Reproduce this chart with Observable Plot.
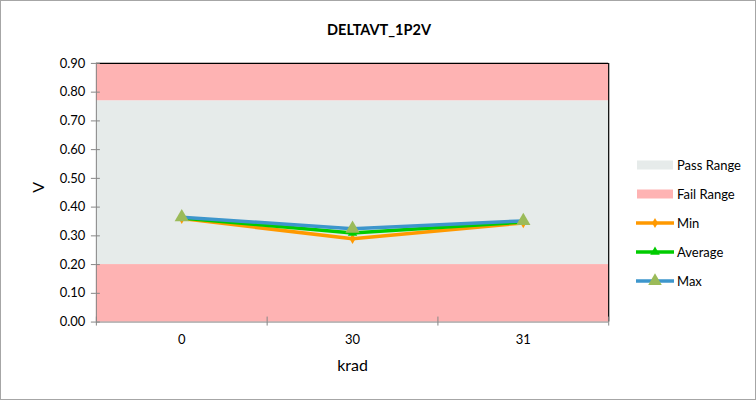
<!DOCTYPE html>
<html>
<head>
<meta charset="utf-8">
<script src="https://cdn.jsdelivr.net/npm/d3@7"></script>
<script src="https://cdn.jsdelivr.net/npm/@observablehq/plot@0.6"></script>
<style>
  html, body { margin: 0; padding: 0; background: #fff; }
  #wrap { position: relative; width: 756px; height: 400px; box-sizing: border-box; border: 1px solid #a6a6a6; font-family: Lato, "Open Sans", sans-serif; overflow: hidden; }
  #chart { position: absolute; left: -1px; top: -1px; }
  #title { position: absolute; left: 0; width: 756px; top: 20px; text-align: center; font-weight: bold; font-size: 14.5px; color: #000; }
  #legend { position: absolute; left: 635px; top: 155px; font-size: 13px; color: #000; }
  .item { position: absolute; left: 0; height: 18px; white-space: nowrap; }
  .item svg { position: absolute; left: 0; top: 0; }
  .item span { position: absolute; left: 41px; top: 0; line-height: 18px; }
</style>
</head>
<body>
<div id="wrap">
  <div id="chart"></div>
  <div id="title"></div>
  <div id="legend"></div>
</div>
<script>
const titleText = "DELTAVT_1P2V";
const xLabel = "krad";
const yLabel = "V";
const categories = ["0", "30", "31"];
const minValues = [0.36, 0.29, 0.345];
const avgValues = [0.362, 0.31, 0.348];
const maxValues = [0.365, 0.325, 0.352];
const passRange = [0.2, 0.77];
const failRanges = [[0, 0.2], [0.77, 0.9]];
const yTicks = [0, 0.1, 0.2, 0.3, 0.4, 0.5, 0.6, 0.7, 0.8, 0.9];
const yDomain = [0, 0.9];

const colors = {pass: "#e6ebea", fail: "#feb3b3", min: "#ff9900", avg: "#00cc00", max: "#3d96cc", maxMarker: "#9bbb59"};

document.getElementById("title").textContent = titleText;

const idx = categories.map((_, i) => i);
const xDom = [-0.5, categories.length - 0.5];
const boundaries = d3.range(categories.length + 1).map(i => i - 0.5);
const series = (vals) => idx.map(i => ({x: i, y: vals[i]}));
const noLabel = () => "";

const bands = [
  {y1: passRange[0], y2: passRange[1], fill: colors.pass},
  ...failRanges.map(r => ({y1: r[0], y2: r[1], fill: colors.fail}))
];

const plot = Plot.plot({
  width: 756,
  height: 400,
  marginLeft: 96,
  marginRight: 147,
  marginTop: 63,
  marginBottom: 78,
  style: {fontFamily: "Lato, 'Open Sans', sans-serif", fontSize: "13px", color: "#000", background: "transparent"},
  x: {type: "linear", domain: xDom},
  y: {domain: yDomain},
  marks: [
    Plot.rectY(bands, {x1: xDom[0], x2: xDom[1], y1: "y1", y2: "y2", fill: "fill"}),
    Plot.ruleY([yDomain[1]], {stroke: "#000", strokeWidth: 1.2}),
    Plot.ruleX([xDom[1]], {stroke: "#000", strokeWidth: 1.2}),
    Plot.ruleX([xDom[0]], {stroke: "#868686"}),
    Plot.ruleY([yDomain[0]], {stroke: "#868686"}),
    Plot.axisY({ticks: yTicks, tickFormat: d => d.toFixed(2), tickSize: 5, tickPadding: 6, stroke: "#868686", label: null, fontSize: 13}),
    Plot.axisY({ticks: yTicks, tickFormat: noLabel, tickSize: -4, stroke: "#868686", label: null}),
    Plot.axisX({ticks: boundaries, tickFormat: noLabel, tickSize: 4, stroke: "#868686", label: null}),
    Plot.axisX({ticks: boundaries, tickFormat: noLabel, tickSize: -5, stroke: "#868686", label: null}),
    Plot.axisX({ticks: idx, tickFormat: i => categories[i], tickSize: 0, tickPadding: 13, label: null, fontSize: 13}),
    Plot.line(series(minValues), {x: "x", y: "y", stroke: colors.min, strokeWidth: 3.5}),
    Plot.dot(series(minValues), {x: "x", y: "y", symbol: "diamond", r: 3.2, fill: colors.min}),
    Plot.line(series(avgValues), {x: "x", y: "y", stroke: colors.avg, strokeWidth: 3.5}),
    Plot.dot(series(avgValues), {x: "x", y: "y", symbol: "triangle", r: 3.5, fill: colors.avg}),
    Plot.line(series(maxValues), {x: "x", y: "y", stroke: colors.max, strokeWidth: 3.5}),
    Plot.dot(series(maxValues), {x: "x", y: "y", symbol: "triangle", r: 5.3, fill: colors.maxMarker}),
    Plot.text([xLabel], {x: (xDom[0] + xDom[1]) / 2, y: yDomain[0], dy: 44, text: d => d, fontSize: 16, lineAnchor: "middle"}),
    Plot.text([yLabel], {frameAnchor: "left", dx: -58, text: d => d, fontSize: 16, rotate: -90})
  ]
});
document.getElementById("chart").appendChild(plot);

const legendItems = [
  {label: "Pass Range", type: "box", color: colors.pass},
  {label: "Fail Range", type: "box", color: colors.fail},
  {label: "Min", type: "line", color: colors.min, marker: "diamond", markerColor: colors.min},
  {label: "Average", type: "line", color: colors.avg, marker: "triangle", markerColor: colors.avg},
  {label: "Max", type: "line", color: colors.max, marker: "triangle", markerColor: colors.maxMarker}
];
const legend = d3.select("#legend");
legendItems.forEach((d, i) => {
  const item = legend.append("div").attr("class", "item").style("top", (i * 29) + "px");
  const svg = item.append("svg").attr("width", 40).attr("height", 18);
  if (d.type === "box") {
    svg.append("rect").attr("x", 1).attr("y", 4.5).attr("width", 36).attr("height", 9).attr("fill", d.color);
  } else {
    svg.append("line").attr("x1", 0).attr("x2", 38).attr("y1", 9).attr("y2", 9).attr("stroke", d.color).attr("stroke-width", 3.5);
    const sym = d.marker === "diamond" ? d3.symbolDiamond : d3.symbolTriangle;
    const size = d.marker === "diamond" ? 30 : (d.markerColor === colors.maxMarker ? 80 : 40);
    svg.append("path").attr("transform", "translate(19,9)").attr("d", d3.symbol(sym, size)()).attr("fill", d.markerColor);
  }
  item.append("span").text(d.label);
});
</script>
</body>
</html>
